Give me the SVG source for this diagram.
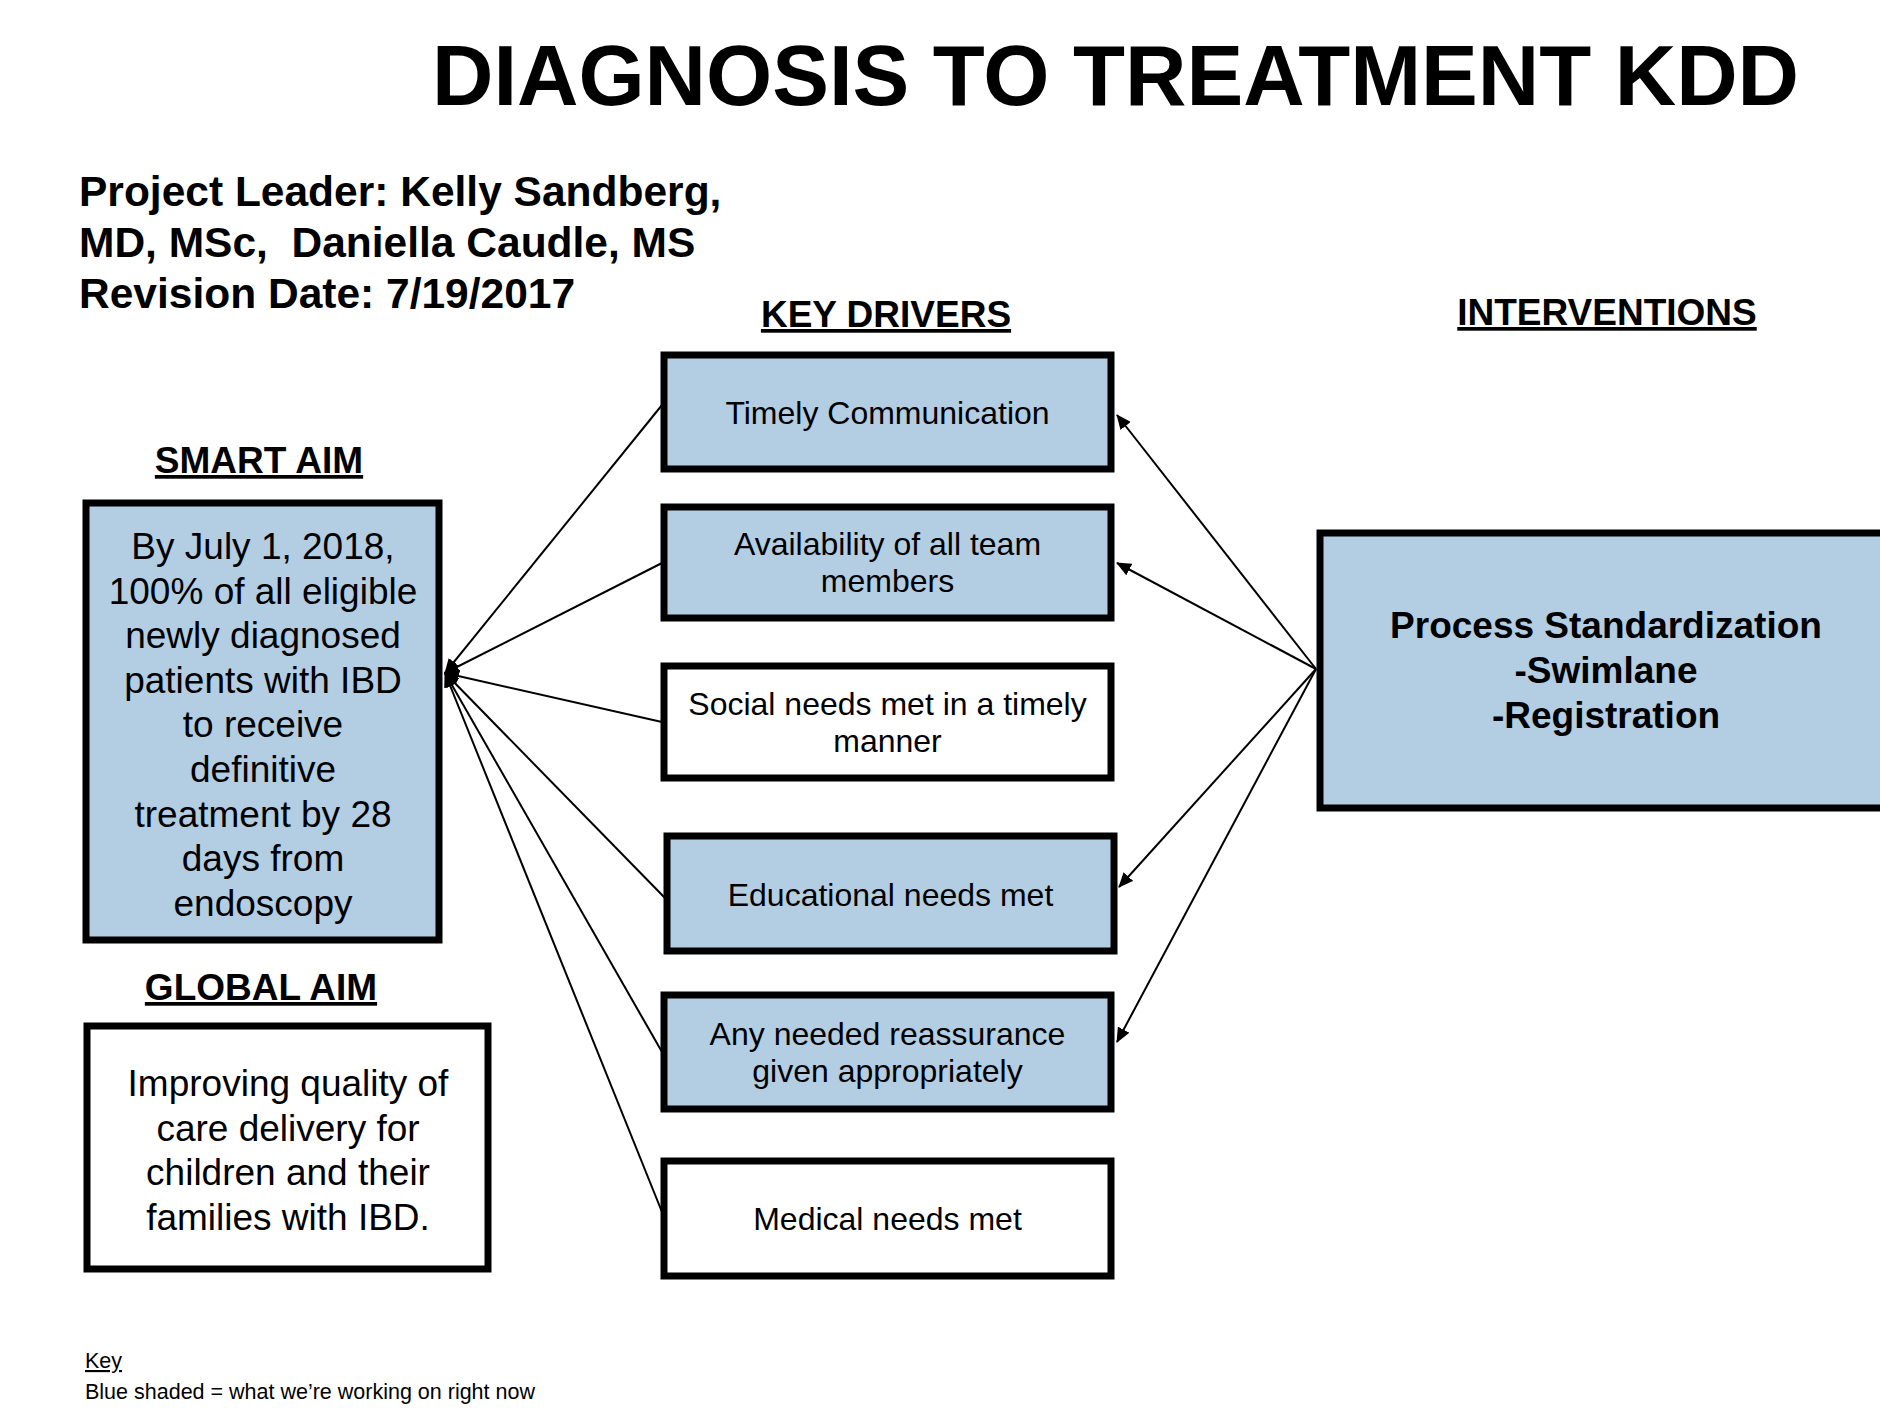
<svg xmlns="http://www.w3.org/2000/svg" width="1880" height="1418" viewBox="0 0 1880 1418">
<defs>
<marker id="arr" markerUnits="userSpaceOnUse" markerWidth="15" markerHeight="13" refX="14" refY="6.5" orient="auto">
<path d="M0,0 L15,6.5 L0,13 z" fill="#000"/>
</marker>
<style>
text{font-family:"Liberation Sans",Arial,sans-serif;fill:#000}
.b{font-weight:bold}
.pre{white-space:pre}
.h{font-weight:bold;font-size:37px;text-decoration:underline;text-anchor:middle}
.box{stroke:#000;stroke-width:7}
.blue{fill:#b3cde3}
.white{fill:#fff}
.t32{font-size:32px;text-anchor:middle}
.t37{font-size:37px;text-anchor:middle}
.con{stroke:#000;stroke-width:2;fill:none;marker-end:url(#arr)}
</style>
</defs>
<rect width="1880" height="1418" fill="#fff"/>
<g id="title">
<text class="b" x="432" y="105" font-size="85" textLength="1367" lengthAdjust="spacingAndGlyphs">DIAGNOSIS TO TREATMENT KDD</text>
</g>
<g id="header">
<text class="b" x="79" y="206" font-size="42.5">Project Leader: Kelly Sandberg,</text>
<text class="b pre" x="79" y="257" font-size="42.5" xml:space="preserve">MD, MSc,  Daniella Caudle, MS</text>
<text class="b" x="79" y="308" font-size="42.5">Revision Date: 7/19/2017</text>
</g>
<g id="headings">
<text class="h" x="886" y="327">KEY DRIVERS</text>
<text class="h" x="1607" y="325">INTERVENTIONS</text>
<text class="h" x="259" y="473">SMART AIM</text>
<text class="h" x="261" y="1000">GLOBAL AIM</text>
</g>
<g id="connectors">
<line class="con" x1="662" y1="405" x2="445" y2="673"/>
<line class="con" x1="662" y1="563" x2="445" y2="673"/>
<line class="con" x1="662" y1="722" x2="445" y2="673"/>
<line class="con" x1="665" y1="898" x2="445" y2="673"/>
<line class="con" x1="662" y1="1052" x2="445" y2="673"/>
<line class="con" x1="662" y1="1212" x2="445" y2="673"/>
<line class="con" x1="1316" y1="669" x2="1117" y2="415"/>
<line class="con" x1="1316" y1="669" x2="1117" y2="563"/>
<line class="con" x1="1316" y1="669" x2="1119" y2="887"/>
<line class="con" x1="1316" y1="669" x2="1117" y2="1042"/>
</g>
<g id="smart-aim">
<rect class="box blue" x="86" y="503" width="353" height="437"/>
<text class="t37" x="263" y="559">By July 1, 2018,</text>
<text class="t37" x="263" y="603.6">100% of all eligible</text>
<text class="t37" x="263" y="648.2">newly diagnosed</text>
<text class="t37" x="263" y="692.8">patients with IBD</text>
<text class="t37" x="263" y="737.4">to receive</text>
<text class="t37" x="263" y="782">definitive</text>
<text class="t37" x="263" y="826.6">treatment by 28</text>
<text class="t37" x="263" y="871.2">days from</text>
<text class="t37" x="263" y="915.8">endoscopy</text>
</g>
<g id="global-aim">
<rect class="box white" x="87" y="1026" width="401" height="243"/>
<text class="t37" x="288" y="1096">Improving quality of</text>
<text class="t37" x="288" y="1140.6">care delivery for</text>
<text class="t37" x="288" y="1185.2">children and their</text>
<text class="t37" x="288" y="1229.8">families with IBD.</text>
</g>
<g id="driver-timely-communication">
<rect class="box blue" x="664" y="355" width="447" height="114"/>
<text class="t32" x="887.5" y="424">Timely Communication</text>
</g>
<g id="driver-availability">
<rect class="box blue" x="664" y="507" width="447" height="111"/>
<text class="t32" x="887.5" y="555">Availability of all team</text>
<text class="t32" x="887.5" y="592">members</text>
</g>
<g id="driver-social">
<rect class="box white" x="664" y="666" width="447" height="112"/>
<text class="t32" x="887.5" y="715">Social needs met in a timely</text>
<text class="t32" x="887.5" y="752">manner</text>
</g>
<g id="driver-educational">
<rect class="box blue" x="667" y="836" width="447" height="115"/>
<text class="t32" x="890.5" y="906">Educational needs met</text>
</g>
<g id="driver-reassurance">
<rect class="box blue" x="664" y="995" width="447" height="114"/>
<text class="t32" x="887.5" y="1045">Any needed reassurance</text>
<text class="t32" x="887.5" y="1082">given appropriately</text>
</g>
<g id="driver-medical">
<rect class="box white" x="664" y="1161" width="447" height="115"/>
<text class="t32" x="887.5" y="1230">Medical needs met</text>
</g>
<g id="intervention-process">
<rect class="box blue" x="1320" y="533" width="600" height="275"/>
<text class="t37 b" x="1606" y="638">Process Standardization</text>
<text class="t37 b" x="1606" y="683">-Swimlane</text>
<text class="t37 b" x="1606" y="728">-Registration</text>
</g>
<g id="key">
<text x="85" y="1368" font-size="21.5" text-decoration="underline">Key</text>
<text x="85" y="1399" font-size="21.5">Blue shaded = what we’re working on right now</text>
</g>
</svg>
